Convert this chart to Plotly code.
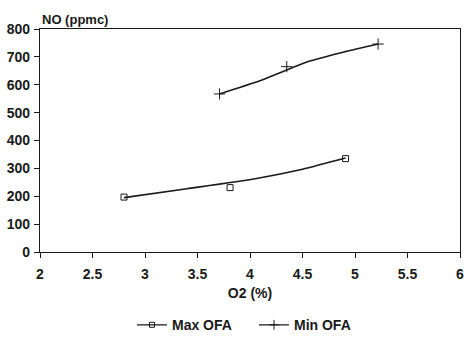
import plotly.graph_objects as go

# measured points
max_x = [2.8, 3.81, 4.91]
max_y = [197, 231, 335]
min_x = [3.71, 4.35, 5.22]
min_y = [567, 665, 746]

# fitted curves
max_fit_x = [2.8, 3.4, 4.05, 4.5, 4.91]
max_fit_y = [195, 227, 263, 297, 337]
min_fit_x = [3.71, 4.1, 4.57, 4.9, 5.22]
min_fit_y = [567, 615, 685, 718, 746]

x_ticks = [2, 2.5, 3, 3.5, 4, 4.5, 5, 5.5, 6]
x_tick_labels = ["2", "2.5", "3", "3.5", "4", "4.5", "5", "5.5", "6"]
y_ticks = [0, 100, 200, 300, 400, 500, 600, 700, 800]

font = "Arial, Liberation Sans, sans-serif"
ink = "#1a1a1a"
tick_font = dict(family=font, size=14, color=ink, weight="bold")

fig = go.Figure()
fig.add_trace(go.Scatter(x=max_fit_x, y=max_fit_y, mode="lines",
                         line=dict(color=ink, width=1.6, shape="spline", smoothing=0.6),
                         showlegend=False, hoverinfo="skip"))
fig.add_trace(go.Scatter(x=min_fit_x, y=min_fit_y, mode="lines",
                         line=dict(color=ink, width=1.6, shape="spline", smoothing=0.6),
                         showlegend=False, hoverinfo="skip"))
fig.add_trace(go.Scatter(x=max_x, y=max_y, mode="markers",
                         marker=dict(symbol="square-open", size=6, color=ink, line=dict(width=1)),
                         showlegend=False))
fig.add_trace(go.Scatter(x=min_x, y=min_y, mode="markers",
                         marker=dict(symbol="cross-thin-open", size=8, color=ink, line=dict(width=1, color=ink)),
                         showlegend=False))
# legend entries
fig.add_trace(go.Scatter(x=[None], y=[None], mode="lines+markers", name="Max OFA",
                         line=dict(color=ink, width=1.3),
                         marker=dict(symbol="square-open", size=5, color=ink, line=dict(width=1))))
fig.add_trace(go.Scatter(x=[None], y=[None], mode="lines+markers", name="Min OFA",
                         line=dict(color=ink, width=1.3),
                         marker=dict(symbol="cross-thin-open", size=7, color=ink, line=dict(width=1, color=ink))))

fig.update_layout(
    width=468, height=337,
    margin=dict(l=40, r=8, t=29, b=85, autoexpand=False),
    paper_bgcolor="white", plot_bgcolor="white",
    font=dict(family=font, size=14, color=ink),
    showlegend=True,
    legend=dict(orientation="h", x=0.282, xanchor="left", xref="container",
                y=0.035, yanchor="middle", yref="container",
                font=tick_font, itemwidth=30, tracegroupgap=0,
                entrywidth=77, entrywidthmode="pixels"),
    annotations=[dict(text="NO (ppmc)", x=0, y=1, xref="paper", yref="paper",
                      xanchor="left", yanchor="bottom", showarrow=False, yshift=0,
                      font=dict(family=font, size=13, color=ink, weight="bold"))],
)
fig.update_xaxes(range=[2, 6], tickvals=x_ticks, ticktext=x_tick_labels,
                 showgrid=False, zeroline=False, showline=True, linecolor=ink, linewidth=1.3,
                 mirror=True, ticks="outside", ticklen=5, tickcolor=ink, tickfont=tick_font,
                 ticklabelstandoff=4,
                 title=dict(text="O2 (%)", standoff=7, font=tick_font))
fig.update_yaxes(range=[0, 800], tickvals=y_ticks, tickfont=tick_font,
                 showgrid=False, zeroline=False, showline=True, linecolor=ink, linewidth=1.3,
                 mirror=True, ticks="outside", ticklen=5, tickcolor=ink, ticklabelstandoff=1)

fig.write_html("out.html")
